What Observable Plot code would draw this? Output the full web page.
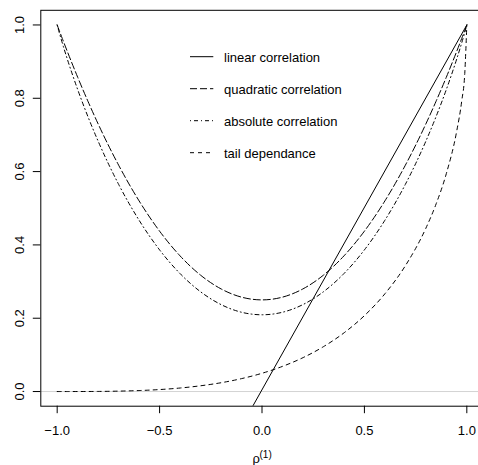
<!DOCTYPE html>
<html>
<head>
<meta charset="utf-8">
<script src="https://cdn.jsdelivr.net/npm/d3@7"></script>
<script src="https://cdn.jsdelivr.net/npm/@observablehq/plot@0.6"></script>
<style>
  body { margin: 0; background: #fff; overflow: hidden; }
  #chart svg { display: block; }
</style>
</head>
<body>
<div id="chart"></div>
<script>
// ---- data ----
const rho = [-1, -0.99, -0.975, -0.95, -0.9, -0.85, -0.8, -0.7, -0.6, -0.5, -0.4, -0.3, -0.2, -0.1,
             0, 0.1, 0.2, 0.3, 0.4, 0.5, 0.6, 0.7, 0.8, 0.85, 0.9, 0.95, 0.975, 0.99, 1];
const quadratic = [1, 0.985, 0.963, 0.927, 0.8575, 0.792, 0.73, 0.6175, 0.52, 0.4375, 0.37, 0.3175, 0.28, 0.2575,
                   0.25, 0.2575, 0.28, 0.3175, 0.37, 0.4375, 0.52, 0.6175, 0.73, 0.792, 0.8575, 0.927, 0.963, 0.985, 1];
const absolute = [1, 0.9796, 0.9508, 0.9059, 0.8239, 0.7501, 0.6829, 0.5652, 0.4672, 0.3864, 0.3217, 0.2722, 0.2372, 0.2163,
                  0.2094, 0.2163, 0.2372, 0.2722, 0.3217, 0.3864, 0.4672, 0.5652, 0.6829, 0.7501, 0.8239, 0.9059, 0.9508, 0.9796, 1];
const tail = [0, 0, 0, 0.00001, 0.00004, 0.00014, 0.0003, 0.0011, 0.0027, 0.0054, 0.0096, 0.0157, 0.024, 0.0352,
              0.0498, 0.0686, 0.0924, 0.1224, 0.1599, 0.207, 0.2666, 0.3432, 0.4454, 0.5116, 0.5945, 0.7084, 0.7921, 0.8679, 1];
const linearRho = [-1, 1];
const linear = [-0.99, 1];

const xTicks = [-1, -0.5, 0, 0.5, 1];
const yTicks = [0, 0.2, 0.4, 0.6, 0.8, 1];
const legendLabels = ["linear correlation", "quadratic correlation", "absolute correlation", "tail dependance"];
const dashes = [null, "7,3", "1,3,4,3", "4,4"];

// ---- tables built from the arrays ----
const toRows = (xs, ys) => xs.map((x, i) => ({rho: x, value: ys[i]}));
const tables = [toRows(linearRho, linear), toRows(rho, quadratic), toRows(rho, absolute), toRows(rho, tail)];

const fmt = d => d3.format(".1f")(d).replace("-", "\u2212");
const font = "'Liberation Sans', Arial, Helvetica, sans-serif";

const chart = Plot.plot({
  width: 478,
  height: 465,
  marginLeft: 40.3,
  marginRight: -4.7,
  marginTop: 9.8,
  marginBottom: 59.3,
  x: {domain: [-1.08, 1.08]},
  y: {domain: [-0.04, 1.04]},
  style: {fontFamily: font, fontSize: "13px", background: "white", color: "black"},
  marks: [
    Plot.ruleY([0], {stroke: "#d3d3d3", strokeWidth: 1}),
    ...tables.map((t, i) => Plot.line(t, {
      x: "rho", y: "value", stroke: "black", strokeWidth: 1,
      strokeDasharray: dashes[i] || undefined,
      curve: i === 0 ? "linear" : "monotone-x",
      clip: true
    })),
    Plot.frame({stroke: "black", strokeWidth: 1}),
    Plot.axisX({ticks: xTicks, tickSize: 7.5, tickFormat: () => "", label: null, stroke: "black"}),
    Plot.axisY({ticks: yTicks, tickSize: 7.5, tickFormat: () => "", label: null, stroke: "black"}),
    Plot.text(xTicks, {x: d => d, text: fmt, frameAnchor: "bottom", dy: 24.3, lineAnchor: "middle", fontSize: 13, fill: "black"}),
    Plot.text(yTicks, {y: d => d, text: fmt, frameAnchor: "left", dx: -21, rotate: -90, textAnchor: "middle", lineAnchor: "middle", fontSize: 13, fill: "black"}),
    Plot.text(["\u03c1"], {frameAnchor: "bottom", dx: -5.8, dy: 52.3, lineAnchor: "middle", fontSize: 13, fill: "black"}),
    Plot.text(["(1)"], {frameAnchor: "bottom", dx: 3.6, dy: 48.3, lineAnchor: "middle", fontSize: 10, fill: "black"})
  ]
});

document.getElementById("chart").appendChild(chart);

// ---- legend (top-centre inside the plot box) ----
const svg = d3.select(chart.tagName.toLowerCase() === "svg" ? chart : chart.querySelector("svg"));
const lg = svg.append("g").attr("font-family", font).attr("font-size", 13).attr("text-anchor", "start");
legendLabels.forEach((label, i) => {
  const yc = 56.7 + i * 32;
  lg.append("line")
    .attr("x1", 190).attr("x2", 213.3).attr("y1", yc).attr("y2", yc)
    .attr("stroke", "black").attr("stroke-width", 1)
    .attr("stroke-dasharray", dashes[i]);
  lg.append("text").attr("x", 224).attr("y", yc + 5).attr("fill", "black")
    .attr("text-anchor", "start").text(label);
});
</script>
</body>
</html>
